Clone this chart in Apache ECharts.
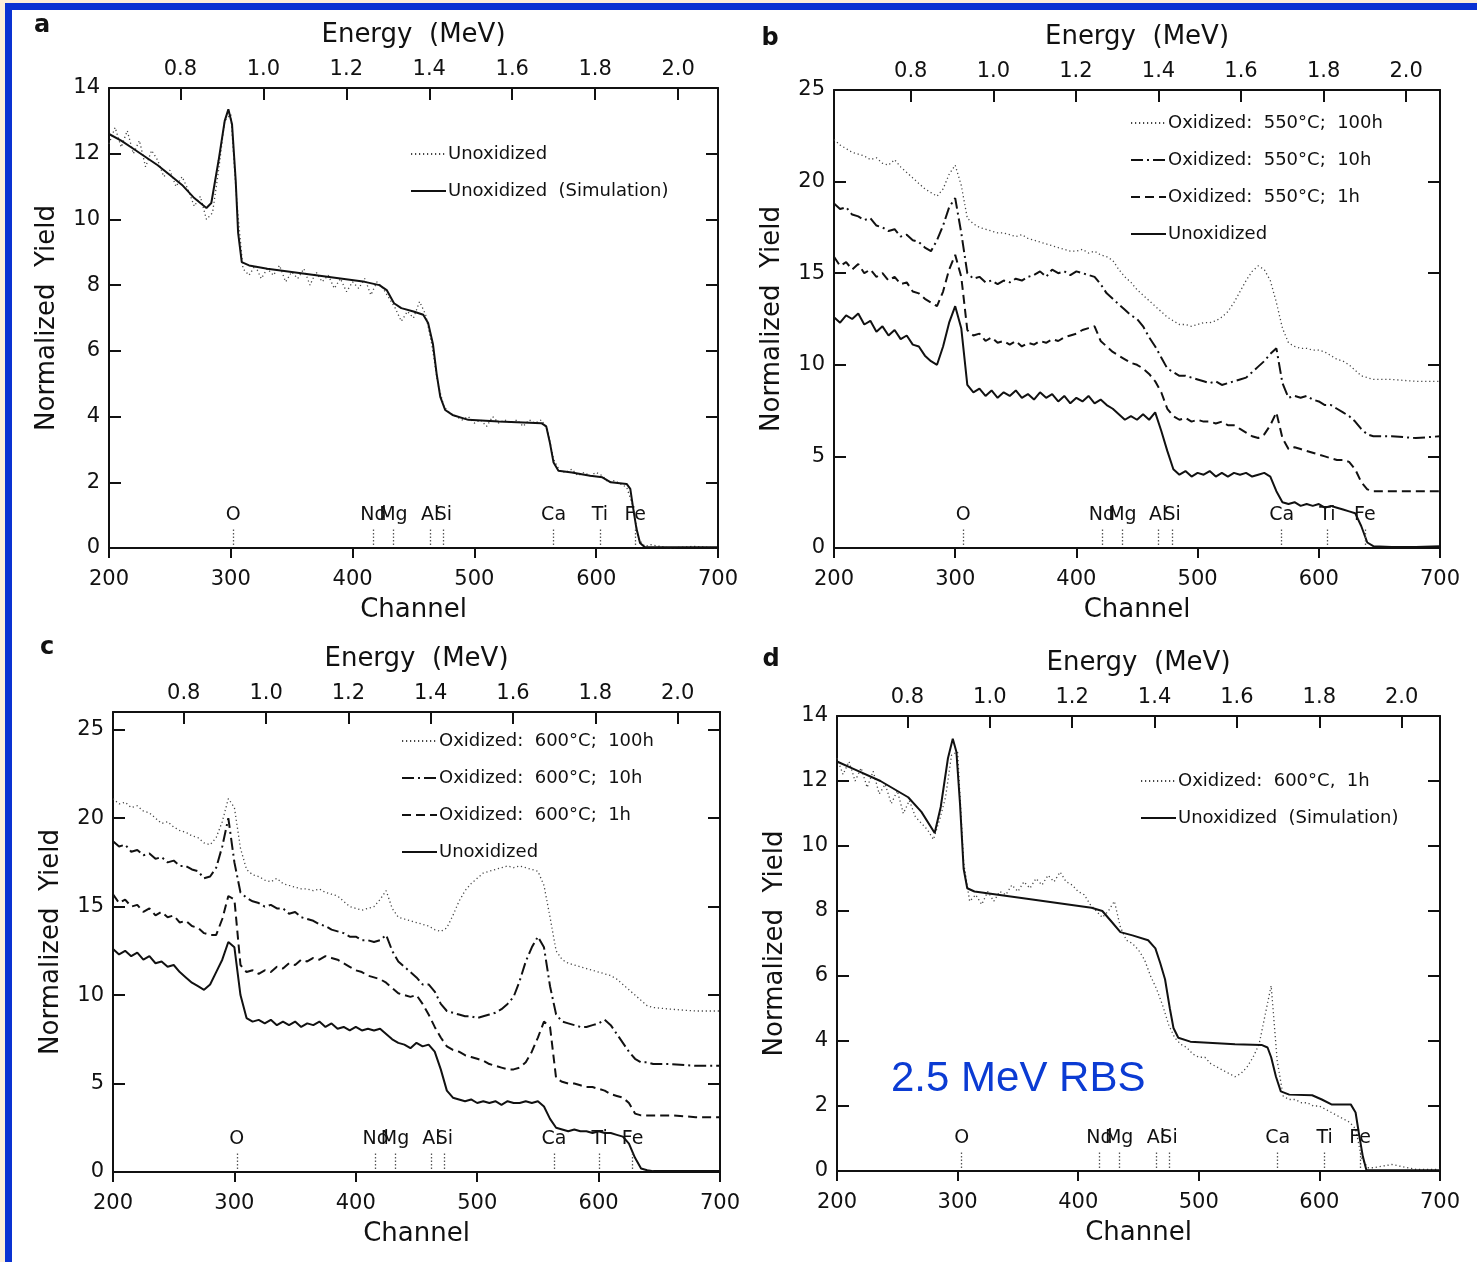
<!DOCTYPE html>
<html><head><meta charset="utf-8">
<script src="https://cdn.jsdelivr.net/npm/echarts@6/dist/echarts.min.js"></script>
<style>
html,body{margin:0;padding:0;width:1477px;height:1262px;overflow:hidden;}
#bgBeige{position:absolute;left:0;top:0;width:1477px;height:1262px;background:#fcefd9;}
#bgBlue{position:absolute;left:5px;top:3px;width:1472px;height:1259px;background:#0a32d2;}
#bgWhite{position:absolute;left:12px;top:10px;width:1465px;height:1252px;background:#ffffff;}
#chart{position:absolute;left:0;top:0;width:1477px;height:1262px;}
</style>
</head><body>
<div id="bgBeige"></div><div id="bgBlue"></div><div id="bgWhite"></div>
<div id="chart"></div>
<script>
// ---------------- DATA ----------------
const channels = [200,205,210,215,220,225,230,235,240,245,250,255,260,265,270,275,280,285,290,295,
300,305,310,315,320,325,330,335,340,345,350,355,360,365,370,375,380,385,390,395,
400,405,410,415,420,425,430,435,440,445,450,455,460,465,470,475,480,485,490,495,
500,505,510,515,520,525,530,535,540,545,550,555,560,565,570,575,580,585,590,595,
600,605,610,615,620,625,630,635,640,645,660,680,700];

const channelTicks = [200,300,400,500,600,700];
const energyTicks = [0.8,1.0,1.2,1.4,1.6,1.8,2.0];
const yTicks14 = [0,2,4,6,8,10,12,14];
const yTicks25 = [0,5,10,15,20,25];
const elementNames = ['O','Nd','Mg','Al','Si','Ca','Ti','Fe'];
const elemChA = [302,417,433.5,463.6,474.6,565,603,632];
const elemChB = [306.6,421,438,467.4,479,569.4,607,638];
const elemChC = [302,416.4,432.3,462.2,473,563.2,600.9,628];
const elemChD = [303.4,417.6,434,464.4,475.3,565.4,604.4,633.7];

// Panel a
const aUnox = [12.3,12.8,12.2,12.7,12.0,12.4,11.6,12.1,11.8,11.3,
11.5,11.0,11.3,10.9,10.4,10.7,10.0,10.2,11.5,13.0,
13.2,10.5,8.5,8.3,8.6,8.2,8.5,8.3,8.6,8.1,
8.4,8.2,8.5,8.0,8.4,8.1,8.3,7.9,8.2,7.8,
8.1,7.9,8.2,7.7,8.1,7.9,7.6,7.3,6.9,7.2,
7.0,7.5,7.1,6.2,5.0,4.3,4.1,4.0,3.9,4.0,
3.8,3.9,3.7,4.0,3.8,3.9,3.8,3.9,3.7,3.9,
3.8,3.9,3.6,2.7,2.35,2.3,2.4,2.2,2.3,2.2,
2.3,2.2,2.0,2.05,1.95,1.85,1.3,0.25,0.05,0.1,
0.0,0.05,0.0];
const aSim = [[200,12.6],[210,12.4],[220,12.15],[230,11.9],[240,11.65],[250,11.35],[260,11.05],[270,10.65],[280,10.35],[284,10.5],[290,11.8],[295,13.0],[298,13.35],[301,12.9],[304,11.2],[306,9.6],[309,8.7],[315,8.6],[330,8.5],[350,8.4],[370,8.3],[390,8.2],[410,8.1],[422,8.0],[428,7.85],[434,7.45],[440,7.3],[450,7.2],[458,7.1],[462,6.85],[466,6.2],[469,5.3],[472,4.6],[476,4.2],[482,4.05],[495,3.9],[520,3.85],[555,3.8],[559,3.7],[562,3.2],[565,2.6],[569,2.35],[580,2.3],[595,2.2],[605,2.15],[612,2.0],[625,1.95],[628,1.8],[630,1.3],[633,0.6],[636,0.15],[640,0.02],[700,0.02]];

// Panel b
const b100h = [22.3,22.0,21.8,21.6,21.5,21.4,21.2,21.3,21.0,20.9,
21.2,20.8,20.5,20.2,19.9,19.6,19.4,19.2,19.6,20.4,
20.9,19.8,18.0,17.7,17.5,17.4,17.3,17.2,17.2,17.1,
17.0,17.1,16.9,16.8,16.7,16.6,16.5,16.4,16.3,16.2,
16.2,16.3,16.1,16.2,16.0,15.9,15.7,15.2,14.8,14.5,
14.1,13.8,13.5,13.2,12.9,12.6,12.4,12.2,12.2,12.1,
12.2,12.3,12.3,12.4,12.6,12.9,13.4,14.0,14.6,15.1,
15.4,15.2,14.6,13.4,12.0,11.2,11.0,10.9,10.9,10.8,
10.8,10.7,10.5,10.3,10.2,10.0,9.7,9.4,9.3,9.2,
9.2,9.1,9.1];
const b10h = [18.8,18.5,18.6,18.2,18.1,17.9,18.0,17.6,17.5,17.3,
17.4,17.0,17.1,16.8,16.7,16.4,16.2,16.8,17.6,18.6,
19.1,17.2,15.0,14.7,14.8,14.5,14.6,14.4,14.6,14.5,
14.7,14.6,14.8,14.9,15.1,14.8,15.2,15.0,15.1,14.9,
15.1,15.0,14.9,14.8,14.4,13.9,13.6,13.3,13.0,12.7,
12.5,12.1,11.5,11.0,10.4,9.8,9.6,9.4,9.4,9.3,
9.2,9.1,9.0,9.1,8.9,9.0,9.1,9.2,9.3,9.6,
9.9,10.2,10.6,10.9,9.0,8.2,8.3,8.2,8.3,8.1,
8.0,7.8,7.8,7.6,7.4,7.2,6.9,6.5,6.2,6.1,
6.1,6.0,6.1];
const b1h = [15.9,15.4,15.6,15.2,15.5,15.0,15.2,14.8,15.0,14.6,
14.8,14.4,14.5,14.0,13.9,13.6,13.4,13.2,14.0,15.2,
16.0,14.8,11.9,11.6,11.7,11.3,11.5,11.2,11.3,11.1,
11.3,11.0,11.2,11.1,11.3,11.2,11.4,11.3,11.5,11.6,
11.7,11.9,12.0,12.1,11.3,11.0,10.7,10.5,10.3,10.1,
10.0,9.8,9.5,9.1,8.5,7.6,7.2,7.0,7.1,6.9,
7.0,6.9,6.9,6.8,6.9,6.7,6.7,6.5,6.3,6.1,
6.0,6.2,6.7,7.4,6.0,5.4,5.5,5.4,5.3,5.2,
5.1,5.0,4.9,4.8,4.8,4.7,4.3,3.6,3.2,3.1,
3.1,3.1,3.1];
const bUnox = [12.6,12.3,12.7,12.5,12.8,12.2,12.4,11.8,12.1,11.6,
11.9,11.4,11.6,11.1,11.0,10.5,10.2,10.0,11.0,12.3,
13.2,12.0,8.9,8.5,8.7,8.3,8.6,8.2,8.5,8.3,
8.6,8.2,8.4,8.1,8.5,8.2,8.4,8.0,8.3,7.9,
8.2,8.0,8.3,7.9,8.1,7.8,7.6,7.3,7.0,7.2,
7.0,7.3,7.0,7.4,6.4,5.3,4.3,4.0,4.2,3.9,
4.1,4.0,4.2,3.9,4.1,3.9,4.1,4.0,4.1,3.9,
4.0,4.1,3.9,3.1,2.5,2.4,2.5,2.3,2.4,2.3,
2.4,2.2,2.3,2.2,2.1,2.0,1.9,1.2,0.3,0.1,
0.05,0.05,0.1];

// Panel c
const c100h = [21.1,20.8,20.9,20.6,20.7,20.4,20.3,20.0,19.7,19.8,
19.5,19.3,19.2,19.0,18.9,18.6,18.5,18.9,19.8,21.1,
20.6,18.3,17.1,16.8,16.7,16.5,16.4,16.6,16.3,16.2,
16.1,16.0,16.0,15.9,16.0,15.8,15.7,15.6,15.3,15.0,
14.9,14.8,14.9,15.0,15.4,15.9,14.9,14.4,14.3,14.2,
14.1,14.0,13.9,13.7,13.6,13.8,14.5,15.3,15.9,16.3,
16.6,16.9,17.0,17.1,17.2,17.3,17.2,17.3,17.2,17.1,
17.0,16.2,14.4,12.5,12.0,11.8,11.7,11.6,11.5,11.4,
11.3,11.2,11.1,10.9,10.6,10.3,10.0,9.7,9.4,9.3,
9.2,9.1,9.1];
const c10h = [18.7,18.4,18.5,18.1,18.2,17.9,18.0,17.7,17.8,17.5,
17.6,17.3,17.3,17.1,17.0,16.6,16.7,17.2,18.4,20.0,
17.5,15.8,15.5,15.3,15.2,15.0,15.1,14.9,14.9,14.6,
14.7,14.4,14.3,14.2,14.0,13.9,13.7,13.6,13.5,13.3,
13.3,13.1,13.1,13.0,13.1,13.4,12.5,11.9,11.6,11.3,
11.0,10.6,10.6,10.2,9.5,9.1,9.0,8.9,8.8,8.8,
8.7,8.8,8.9,9.0,9.2,9.5,9.9,10.8,11.9,12.7,
13.3,12.7,10.5,8.9,8.5,8.4,8.3,8.2,8.2,8.3,
8.4,8.6,8.3,7.8,7.3,6.8,6.4,6.2,6.2,6.1,
6.1,6.0,6.0];
const c1h = [15.7,15.2,15.4,15.0,15.1,14.7,14.9,14.5,14.7,14.4,
14.5,14.1,14.2,13.9,13.8,13.5,13.4,13.4,14.3,15.6,
15.4,11.7,11.3,11.4,11.2,11.4,11.3,11.6,11.5,11.8,
11.7,12.0,11.9,12.1,12.0,12.2,12.1,12.0,11.8,11.6,
11.4,11.3,11.1,11.0,10.9,10.7,10.4,10.1,10.0,9.9,
10.0,9.5,8.9,8.2,7.6,7.1,6.9,6.8,6.6,6.5,
6.4,6.3,6.1,6.0,5.9,5.8,5.8,5.9,6.2,6.8,
7.6,8.5,8.2,5.3,5.1,5.0,5.0,4.9,4.8,4.8,
4.7,4.6,4.4,4.3,4.2,3.9,3.3,3.2,3.2,3.2,
3.2,3.1,3.1];
const cUnox = [12.6,12.3,12.5,12.2,12.4,12.0,12.2,11.8,11.9,11.6,
11.7,11.3,11.0,10.7,10.5,10.3,10.6,11.3,12.0,13.0,
12.7,10.0,8.7,8.5,8.6,8.4,8.6,8.3,8.5,8.3,
8.5,8.2,8.4,8.3,8.5,8.2,8.4,8.1,8.2,8.0,
8.2,8.0,8.1,8.0,8.1,7.8,7.5,7.3,7.2,7.0,
7.3,7.1,7.2,6.8,5.8,4.6,4.2,4.1,4.0,4.1,
3.9,4.0,3.9,4.0,3.8,4.0,3.9,3.9,4.0,3.9,
4.0,3.7,3.0,2.5,2.4,2.3,2.4,2.3,2.3,2.2,
2.3,2.2,2.2,2.1,2.0,1.6,0.8,0.2,0.1,0.05,
0.05,0.05,0.05];

// Panel d
const d1h = [12.7,12.2,12.6,12.0,12.4,11.8,12.3,11.6,11.9,11.3,
11.7,11.0,11.4,10.9,10.7,10.5,10.2,10.8,11.5,12.8,
12.9,9.5,8.3,8.5,8.2,8.6,8.3,8.6,8.5,8.8,
8.6,8.9,8.7,9.0,8.8,9.1,8.9,9.2,8.9,8.8,
8.6,8.5,8.2,8.0,7.8,8.0,8.3,7.5,7.1,7.0,
6.8,6.5,6.0,5.6,5.1,4.5,4.1,3.9,3.8,3.6,
3.5,3.5,3.3,3.2,3.1,3.0,2.9,3.0,3.2,3.5,
3.9,4.8,5.7,3.4,2.3,2.2,2.2,2.1,2.1,2.0,
2.0,1.9,1.8,1.7,1.6,1.5,1.3,0.4,0.1,0.1,
0.2,0.05,0.05];
const dSim = [[200,12.6],[215,12.35],[236,12.0],[259,11.5],[270,11.05],[281,10.4],[286,11.2],[292,12.7],[296,13.3],[299,12.9],[302,11.3],[305,9.3],[308,8.7],[314,8.6],[353,8.4],[411,8.1],[420,8.0],[427,7.7],[435,7.35],[445,7.25],[458,7.1],[464,6.85],[468,6.4],[472,5.9],[476,5.0],[479,4.4],[483,4.1],[493,3.98],[530,3.9],[552,3.88],[557,3.8],[560,3.5],[564,2.9],[568,2.45],[575,2.35],[594,2.33],[602,2.2],[610,2.05],[626,2.05],[630,1.8],[633,1.1],[636,0.45],[639,0.02],[700,0.02]];

// ---------------- STYLES / LAYOUT ----------------
const FONT = 'DejaVu Sans';
const INK = '#111111';
const styles = {
  solid:   {color: INK, width: 2},
  dotted:  {color: '#444444', width: 1.3, type: [1.2, 2.8]},
  dashed:  {color: INK, width: 2, type: [9, 5]},
  dashdot: {color: INK, width: 2, type: [12, 4, 2, 4]}
};
const pair = vals => vals.map((v, i) => [channels[i], v]);

const panels = [
  {grid: {left: 109, top: 88, width: 609, height: 460}, ymax: 14, yTicks: yTicks14, eRange: [0.628, 2.096],
   elem: elemChA, letter: 'a', letterPos: [42, 26], legendPos: {left: 405, top: 139},
   series: [
     {name: 'Unoxidized', data: pair(aUnox), style: 'dotted'},
     {name: 'Unoxidized  (Simulation)', data: aSim, style: 'solid'}
   ]},
  {grid: {left: 834, top: 90, width: 606, height: 458}, ymax: 25, yTicks: yTicks25, eRange: [0.614, 2.082],
   elem: elemChB, letter: 'b', letterPos: [770, 39], legendPos: {left: 1125, top: 108},
   series: [
     {name: 'Oxidized:  550°C;  100h', data: pair(b100h), style: 'dotted'},
     {name: 'Oxidized:  550°C;  10h', data: pair(b10h), style: 'dashdot'},
     {name: 'Oxidized:  550°C;  1h', data: pair(b1h), style: 'dashed'},
     {name: 'Unoxidized', data: pair(bUnox), style: 'solid'}
   ]},
  {grid: {left: 113, top: 712, width: 607, height: 460}, ymax: 26, yTicks: yTicks25, eRange: [0.628, 2.103],
   elem: elemChC, letter: 'c', letterPos: [47, 648], legendPos: {left: 396, top: 726},
   series: [
     {name: 'Oxidized:  600°C;  100h', data: pair(c100h), style: 'dotted'},
     {name: 'Oxidized:  600°C;  10h', data: pair(c10h), style: 'dashdot'},
     {name: 'Oxidized:  600°C;  1h', data: pair(c1h), style: 'dashed'},
     {name: 'Unoxidized', data: pair(cUnox), style: 'solid'}
   ]},
  {grid: {left: 837, top: 716, width: 603, height: 455}, ymax: 14, yTicks: yTicks14, eRange: [0.629, 2.093],
   elem: elemChD, letter: 'd', letterPos: [771, 660], legendPos: {left: 1135, top: 766},
   series: [
     {name: 'Oxidized:  600°C,  1h', data: pair(d1h), style: 'dotted'},
     {name: 'Unoxidized  (Simulation)', data: dSim, style: 'solid'}
   ]}
];

// ---------------- BUILD OPTION ----------------
const grids = [], xAxes = [], yAxes = [], series = [], legends = [], graphics = [];
const lineAx = {show: true, onZero: false, lineStyle: {color: INK, width: 2}};
const tickStyle = {color: INK, width: 2};

panels.forEach((p, pi) => {
  grids.push(Object.assign({containLabel: false, show: false}, p.grid));
  xAxes.push({gridIndex: pi, type: 'value', position: 'bottom', min: 200, max: 700, interval: 100,
    axisLine: lineAx, axisTick: {show: true, inside: false, length: 10, lineStyle: tickStyle},
    axisLabel: {color: INK, fontSize: 21, fontFamily: FONT, margin: 21, customValues: channelTicks},
    splitLine: {show: false},
    name: 'Channel', nameLocation: 'middle', nameGap: 49,
    nameTextStyle: {color: INK, fontSize: 26, fontFamily: FONT}});
  xAxes.push({gridIndex: pi, type: 'value', position: 'top', min: p.eRange[0], max: p.eRange[1],
    axisLine: lineAx,
    axisTick: {show: true, inside: true, length: 12, lineStyle: tickStyle, customValues: energyTicks},
    axisLabel: {color: INK, fontSize: 21, fontFamily: FONT, margin: 8, customValues: energyTicks,
      formatter: v => Number(v).toFixed(1)},
    splitLine: {show: false},
    name: 'Energy  (MeV)', nameLocation: 'middle', nameGap: 40,
    nameTextStyle: {color: INK, fontSize: 26, fontFamily: FONT}});
  yAxes.push({gridIndex: pi, type: 'value', position: 'left', min: 0, max: p.ymax,
    axisLine: lineAx,
    axisTick: {show: true, inside: true, length: 12, lineStyle: tickStyle, customValues: p.yTicks},
    axisLabel: {color: INK, fontSize: 21, fontFamily: FONT, margin: 9, customValues: p.yTicks},
    splitLine: {show: false},
    name: 'Normalized  Yield', nameLocation: 'middle', nameGap: 49,
    nameTextStyle: {color: INK, fontSize: 26, fontFamily: FONT}});
  yAxes.push({gridIndex: pi, type: 'value', position: 'right', min: 0, max: p.ymax,
    axisLine: lineAx,
    axisTick: {show: true, inside: true, length: 12, lineStyle: tickStyle, customValues: p.yTicks},
    axisLabel: {show: false}, splitLine: {show: false}});

  const names = [];
  p.series.forEach((s, si) => {
    const full = p.letter + '|' + s.name;
    names.push(full);
    const ser = {type: 'line', name: full, xAxisIndex: 2 * pi, yAxisIndex: 2 * pi,
      data: s.data, symbol: 'none', showSymbol: false, animation: false, silent: true,
      lineStyle: styles[s.style], itemStyle: {color: styles[s.style].color}, z: 3};
    if (si === 0) {
      const y0 = p.ymax * 3 / p.grid.height, y1 = p.ymax * 20 / p.grid.height;
      ser.markLine = {silent: true, animation: false, symbol: ['none', 'none'],
        lineStyle: {color: '#555', width: 1.3, type: [1.5, 2]},
        label: {show: true, position: 'end', distance: 3, formatter: '{b}',
          color: INK, fontSize: 19, fontFamily: FONT},
        data: p.elem.map((ch, k) => [
          {coord: [ch, y0], name: elementNames[k]},
          {coord: [ch, y1], name: elementNames[k]}
        ])};
    }
    series.push(ser);
  });

  legends.push({left: p.legendPos.left, top: p.legendPos.top, orient: 'vertical',
    data: names, selectedMode: false, itemWidth: 35, itemHeight: 12, itemGap: 17,
    itemStyle: {opacity: 0, borderWidth: 0},
    formatter: n => n.split('|')[1],
    textStyle: {color: INK, fontSize: 18, lineHeight: 20, fontFamily: FONT, padding: [0, 0, 0, -3]}});

  graphics.push({type: 'text', x: p.letterPos[0], y: p.letterPos[1], z: 10,
    style: {text: p.letter, font: 'bold 24px "DejaVu Sans"', fill: INK, textAlign: 'center', textVerticalAlign: 'middle'}});
});

graphics.push({type: 'text', x: 891, y: 1079, z: 10,
  style: {text: '2.5 MeV RBS', font: '42px "Liberation Sans"', fill: '#0b3bd3', textAlign: 'left', textVerticalAlign: 'middle'}});

const option = {
  backgroundColor: 'transparent',
  animation: false,
  textStyle: {fontFamily: FONT},
  grid: grids, xAxis: xAxes, yAxis: yAxes, series: series, legend: legends, graphic: graphics
};

const chart = echarts.init(document.getElementById('chart'), null, {renderer: 'canvas'});
chart.setOption(option);
</script>
</body></html>
